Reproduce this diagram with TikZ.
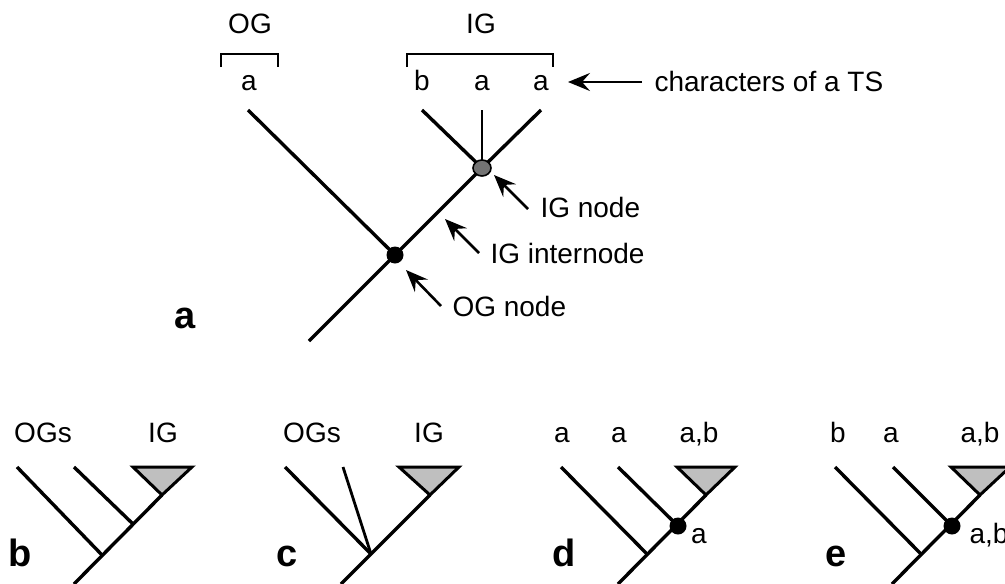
\documentclass[tikz,border=0pt]{standalone}
\usepackage{fontspec}
\setmainfont{Liberation Sans}
\usetikzlibrary{arrows.meta,shapes.geometric}
\begin{document}
\begin{tikzpicture}[x=1pt,y=-1pt,line width=3pt,line cap=butt,
  lbl/.style={font=\fontsize{28}{34}\selectfont,inner sep=0pt,anchor=base},
  biglbl/.style={font=\fontsize{38}{44}\selectfont\bfseries,inner sep=0pt,anchor=base},
  branch/.style={line width=3.4pt},
  thin branch/.style={line width=2.4pt},
  bracketline/.style={line width=2.2pt},
  pointer/.style={line width=2.6pt,-{Stealth[length=22pt,width=18pt,inset=8pt]}},
  blackdot/.style={circle,fill=black,inner sep=0pt,minimum size=17pt},
  graydot/.style={ellipse,draw=black,line width=1.6pt,fill=gray!90!black,inner sep=0pt,minimum width=18pt,minimum height=16pt},
  clade/.style={fill=gray!50,draw=black,line width=3pt,line join=miter}]
\useasboundingbox (0,0) rectangle (1005,584);

% ---------- panel a ----------
\node[lbl] (og) at (250,33) {OG};
\node[lbl] (ig) at (481,33) {IG};
\draw[bracketline] (221,67) -- (221,54) -- (278,54) -- (278,67);
\draw[bracketline] (407,67) -- (407,54) -- (553,54) -- (553,67);
\node[lbl] (ta) at (249,90) {a};
\node[lbl] (tb1) at (422,90) {b};
\node[lbl] (ta1) at (482,90) {a};
\node[lbl] (ta2) at (541,90) {a};

\coordinate (ogtop) at (248,110);
\coordinate (igl) at (422,110);
\coordinate (igm) at (482,110);
\coordinate (igr) at (541,110);
\coordinate (root) at (309,341);
\coordinate (ogn) at (395,255);
\coordinate (ign) at (482,168);

\draw[branch] (ogtop) -- (ogn);
\draw[branch] (igl) -- (ign);
\draw[thin branch] (igm) -- (ign);
\draw[branch] (igr) -- (ign);
\draw[branch] (root) -- (ogn) -- (ign);
\node[blackdot] (ogdot) at (ogn) {};
\node[graydot] (igdot) at (ign) {};

\node[lbl,anchor=base west] (chars) at (653,91) {characters of a TS};
\coordinate (charsTail) at (642,82);
\coordinate (charsTip) at (568,82);
\draw[pointer] (charsTail) -- (charsTip);

\node[lbl,anchor=base west] (ignodelbl) at (539,217) {IG node};
\coordinate (ignTail) at (528,209);
\coordinate (ignTip) at (494,175);
\draw[pointer] (ignTail) -- (ignTip);

\node[lbl,anchor=base west] (intlbl) at (489,263) {IG internode};
\coordinate (intTail) at (479,253);
\coordinate (intTip) at (445,219);
\draw[pointer] (intTail) -- (intTip);

\node[lbl,anchor=base west] (ognodelbl) at (451,316) {OG node};
\coordinate (ognTail) at (441,306);
\coordinate (ognTip) at (406,270);
\draw[pointer] (ognTail) -- (ognTip);

\node[biglbl] (pa) at (185,328) {a};

% ---------- panel b ----------
\node[lbl] (bogs) at (43,442) {OGs};
\node[lbl] (big) at (163,442) {IG};
\coordinate (b1) at (17,467);
\coordinate (b2) at (74,467);
\coordinate (bn1) at (102,555);
\coordinate (bn2) at (133,524);
\coordinate (bap) at (162,495);
\coordinate (broot) at (74,584);
\draw[clade] (133,467) -- (192,467) -- (bap) -- cycle;
\draw[branch] (b1) -- (bn1);
\draw[branch] (b2) -- (bn2);
\draw[branch] (broot) -- (bap);
\node[biglbl] (pb) at (20,566) {b};

% ---------- panel c ----------
\node[lbl] (cogs) at (312,442) {OGs};
\node[lbl] (cig) at (429,442) {IG};
\coordinate (c1) at (285,467);
\coordinate (c2) at (343,467);
\coordinate (cn) at (371,554);
\coordinate (cap) at (430,495);
\coordinate (croot) at (341,584);
\draw[clade] (399,467) -- (459,467) -- (cap) -- cycle;
\draw[branch] (c1) -- (cn);
\draw[line width=2.8pt] (c2) -- (cn);
\draw[branch] (croot) -- (cap);
\node[biglbl] (pc) at (287,566) {c};

% ---------- panel d ----------
\node[lbl] (da1) at (562,442) {a};
\node[lbl] (da2) at (619,442) {a};
\node[lbl] (dab) at (699,442) {a,b};
\coordinate (d1) at (561,467);
\coordinate (d2) at (618,467);
\coordinate (dn1) at (648,555);
\coordinate (dn2) at (678,526);
\coordinate (dap) at (706,495);
\coordinate (droot) at (618,584);
\draw[clade] (677,467) -- (735,467) -- (dap) -- cycle;
\draw[branch] (d1) -- (dn1);
\draw[branch] (d2) -- (dn2);
\draw[branch] (droot) -- (dap);
\node[blackdot] (ddot) at (dn2) {};
\node[lbl] (dlab) at (699,543) {a};
\node[biglbl] (pd) at (564,566) {d};

% ---------- panel e ----------
\node[lbl] (eb) at (838,442) {b};
\node[lbl] (ea) at (891,442) {a};
\node[lbl] (eab) at (980,442) {a,b};
\coordinate (e1) at (835,467);
\coordinate (e2) at (893,467);
\coordinate (en1) at (922,555);
\coordinate (en2) at (952,526);
\coordinate (eap) at (980,495);
\coordinate (eroot) at (892,584);
\draw[clade] (951,467) -- (1010,467) -- (eap) -- cycle;
\draw[branch] (e1) -- (en1);
\draw[branch] (e2) -- (en2);
\draw[branch] (eroot) -- (eap);
\node[blackdot] (edot) at (en2) {};
\node[lbl,anchor=base west] (elab) at (968,543) {a,b};
\node[biglbl] (pe) at (836,566) {e};
\end{tikzpicture}
\end{document}
